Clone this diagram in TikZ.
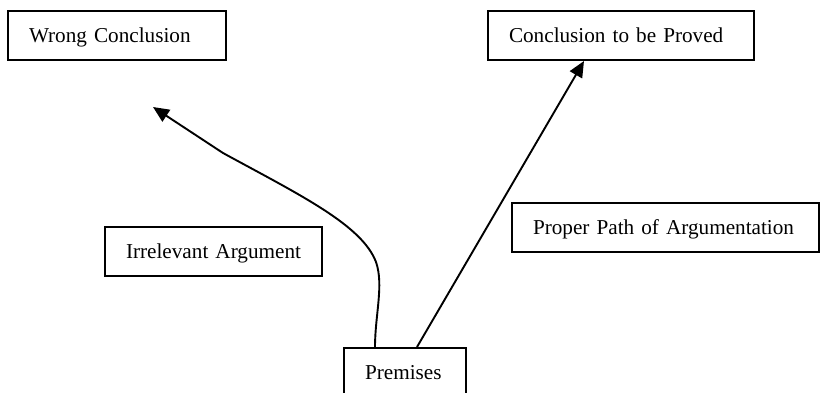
\documentclass[tikz,border=0pt]{standalone}
\usepackage{fontspec}
\setmainfont{Liberation Serif}
\usetikzlibrary{arrows.meta}

\begin{document}
\begin{tikzpicture}[x=0.5pt,y=-0.5pt,
  box/.style={draw,line width=1pt,anchor=north west,minimum height=24.5pt,inner xsep=10.5pt,inner ysep=0pt,align=left,text height=7pt,text depth=0pt,font=\fontsize{10.6}{12}\selectfont},
  arr/.style={line width=0.95pt,-{Triangle[length=8pt,width=7pt]}}]
\clip (0,0) rectangle (820,392);
\draw (7,10) node[box,text width=88pt](wrong) {\mbox{Wrong Conclusion}};
\draw (487,10) node[box,text width=112pt](conc) {\mbox{Conclusion to be Proved}};
\draw (104,226) node[box,text width=87.5pt](irr) {\mbox{Irrelevant Argument}};
\draw (511,202) node[box,text width=132.5pt](proper) {\mbox{Proper Path of Argumentation}};
\draw (343,347) node[box,text width=40pt](prem) {\mbox{Premises}};
\coordinate (wrongtip) at (153,107);
\draw[arr] ([xshift=6pt]prem.north) -- ([xshift=-18.5pt]conc.south);
\draw[arr] ([xshift=-15pt]prem.north) .. controls (375,315) and (384,285) .. (376,262)
  .. controls (362,225) and (300,195) .. (223,153) -- (wrongtip);
\end{tikzpicture}
\end{document}
